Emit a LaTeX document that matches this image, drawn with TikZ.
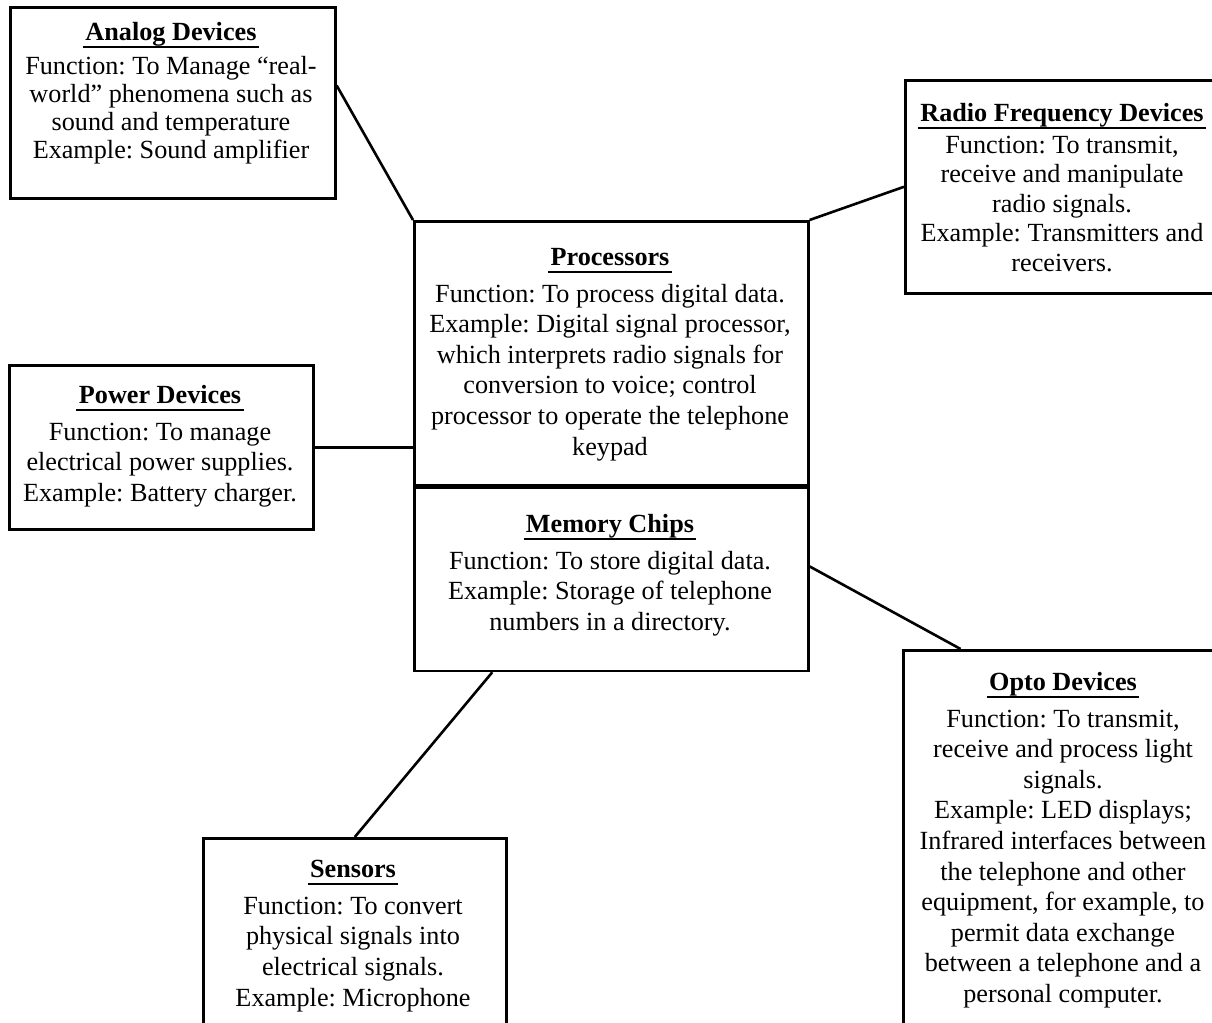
\documentclass[tikz,border=0pt]{standalone}
\usepackage{fontspec}
\setmainfont{Liberation Serif}
\usetikzlibrary{calc,positioning}

\newcommand{\heading}[1]{\leavevmode\setbox0\hbox{\bfseries #1}%
  \rlap{\kern-1.2pt\rule[-3.6pt]{\dimexpr\wd0+2.4pt\relax}{1pt}}\box0}

\tikzset{
  box/.style={draw, line width=1.3pt, rectangle, inner sep=0pt, anchor=north west},
  info/.style={align=center, inner sep=0pt, anchor=north,
    font=\fontsize{13.1pt}{15.3pt}\selectfont\frenchspacing},
  conn/.style={line width=1.3pt}
}

\begin{document}
\begin{tikzpicture}[x=0.5pt, y=-0.5pt]
\useasboundingbox (0,0) rectangle (1212,1023);
\clip (0,0) rectangle (1212,1023);

% boxes
\path (9,6) node[box, minimum width=162.5pt, minimum height=95.5pt] (analog) {};
\path (904,79) node[box, minimum width=156pt, minimum height=106.5pt] (radio) {};
\path (413,220) node[box, minimum width=197pt, minimum height=132pt] (procs) {};
\path (procs.south west) node[box, minimum width=197pt, minimum height=91.5pt] (memory) {};
\path (8,364) node[box, minimum width=152pt, minimum height=82pt] (power) {};
\path (902,649) node[box, minimum width=157pt, minimum height=195pt] (opto) {};
\path (202,837) node[box, minimum width=151.5pt, minimum height=100pt] (sensors) {};

% texts
\path (171,22) node[info, font=\fontsize{13.1pt}{14pt}\selectfont\frenchspacing]
  (analogtext) {\heading{Analog Devices}\\[3pt]
  Function: To Manage “real-\\ world” phenomena such as\\ sound and temperature\\
  Example: Sound amplifier};
\path (1062,103) node[info, font=\fontsize{13.1pt}{14.75pt}\selectfont\frenchspacing]
  (radiotext) {\heading{Radio Frequency Devices}\\[1pt]
  Function: To transmit,\\ receive and manipulate\\ radio signals.\\
  Example: Transmitters and\\ receivers.};
\path (610,248) node[info] (procstext) {\heading{Processors}\\[3pt]
  Function: To process digital data.\\ Example: Digital signal processor,\\
  which interprets radio signals for\\ conversion to voice; control\\
  processor to operate the telephone\\ keypad};
\path (610,514) node[info] (memorytext) {\heading{Memory Chips}\\[3pt]
  Function: To store digital data.\\ Example: Storage of telephone\\
  numbers in a directory.};
\path (160,385) node[info] (powertext) {\heading{Power Devices}\\[3pt]
  Function: To manage\\ electrical power supplies.\\ Example: Battery charger.};
\path (1063,672) node[info] (optotext) {\heading{Opto Devices}\\[3pt]
  Function: To transmit,\\ receive and process light\\ signals.\\
  Example: LED displays;\\ Infrared interfaces between\\ the telephone and other\\
  equipment, for example, to\\ permit data exchange\\
  between a telephone and a\\ personal computer.};
\path (353,860) node[info] (sensorstext) {\heading{Sensors}\\[3pt]
  Function: To convert\\ physical signals into\\ electrical signals.\\
  Example: Microphone};

% connectors
\draw[conn] ($(analog.north east)!0.41!(analog.south east)$) -- (procs.north west);
\draw[conn] (procs.north east) -- (radio.west);
\draw[conn] (power.east) -- (power.east -| procs.west);
\draw[conn] ($(memory.north east)!0.43!(memory.south east)$)
  -- ($(opto.north west)!0.185!(opto.north east)$);
\draw[conn] ($(memory.south west)!0.2!(memory.south east)$) -- (sensors.north);
\end{tikzpicture}
\end{document}
